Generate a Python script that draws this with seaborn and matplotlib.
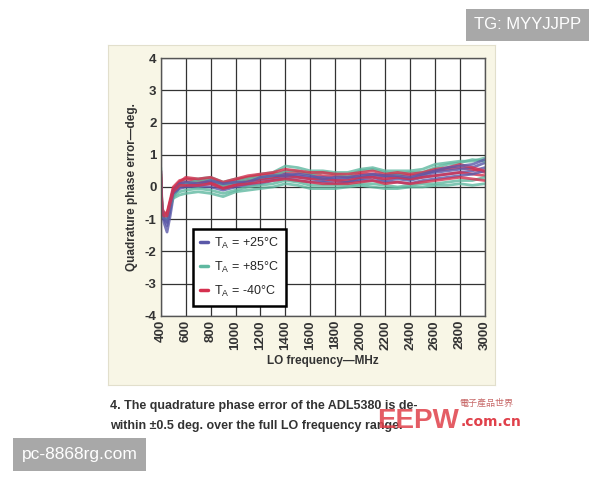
import numpy as np
import pandas as pd
import seaborn as sns
import matplotlib.pyplot as plt
from matplotlib.lines import Line2D

# LO frequency sample points (MHz)
freq = [400, 410, 425, 450, 475, 500, 550, 600, 700, 800, 900, 1000, 1100, 1200,
        1300, 1400, 1500, 1600, 1700, 1800, 1900, 2000, 2100, 2200, 2300, 2400,
        2500, 2600, 2700, 2800, 2900, 3000]

# quadrature phase error (deg.), a few devices per temperature
err_25 = [
    [0.5, -0.7, -1.1, -1.4, -0.9, -0.3, 0.0, 0.05, 0.05, 0.1, -0.05, 0.05, 0.1, 0.2, 0.25, 0.3,
     0.3, 0.25, 0.2, 0.2, 0.15, 0.25, 0.3, 0.2, 0.25, 0.2, 0.3, 0.35, 0.4, 0.45, 0.5, 0.6],
    [0.3, -0.8, -1.0, -1.2, -0.7, -0.2, 0.05, 0.1, 0.15, 0.15, 0.05, 0.1, 0.2, 0.25, 0.3, 0.4,
     0.35, 0.3, 0.3, 0.25, 0.25, 0.3, 0.35, 0.3, 0.3, 0.25, 0.35, 0.45, 0.5, 0.55, 0.6, 0.75],
    [0.0, -0.9, -1.0, -1.0, -0.6, -0.25, -0.05, 0.0, 0.0, 0.0, -0.1, 0.0, 0.05, 0.1, 0.2, 0.25,
     0.2, 0.15, 0.15, 0.1, 0.15, 0.2, 0.2, 0.15, 0.15, 0.1, 0.2, 0.25, 0.3, 0.35, 0.4, 0.5],
    [0.2, -0.75, -0.95, -1.1, -0.65, -0.15, 0.1, 0.15, 0.1, 0.2, 0.1, 0.15, 0.15, 0.3, 0.35, 0.35,
     0.4, 0.35, 0.25, 0.3, 0.3, 0.35, 0.4, 0.35, 0.35, 0.3, 0.4, 0.5, 0.6, 0.65, 0.7, 0.85],
]
err_85 = [
    [0.6, -0.6, -0.9, -0.9, -0.5, -0.1, 0.15, 0.25, 0.25, 0.3, 0.15, 0.25, 0.3, 0.4, 0.45, 0.65,
     0.6, 0.5, 0.5, 0.45, 0.45, 0.55, 0.6, 0.5, 0.5, 0.5, 0.55, 0.7, 0.75, 0.8, 0.8, 0.9],
    [0.2, -0.8, -0.9, -0.9, -0.6, -0.35, -0.25, -0.2, -0.15, -0.2, -0.3, -0.15, -0.1, -0.05, 0.0,
     0.1, 0.05, -0.05, -0.05, -0.05, 0.0, 0.05, 0.0, -0.05, -0.05, 0.0, 0.0, 0.05, 0.05, 0.1, 0.05, 0.1],
    [0.4, -0.7, -0.85, -0.95, -0.55, -0.2, 0.05, 0.1, 0.2, 0.25, 0.05, 0.15, 0.25, 0.3, 0.35, 0.5,
     0.5, 0.4, 0.45, 0.4, 0.35, 0.5, 0.55, 0.45, 0.4, 0.45, 0.45, 0.6, 0.7, 0.75, 0.85, 0.8],
    [0.1, -0.85, -0.95, -1.0, -0.6, -0.3, -0.15, -0.1, -0.05, -0.1, -0.2, -0.1, 0.0, 0.05, 0.1,
     0.2, 0.15, 0.05, 0.05, 0.05, 0.05, 0.1, 0.1, 0.05, 0.0, 0.05, 0.1, 0.1, 0.15, 0.2, 0.2, 0.3],
]
err_m40 = [
    [0.4, -0.7, -0.8, -0.8, -0.4, 0.0, 0.2, 0.25, 0.2, 0.25, 0.1, 0.2, 0.3, 0.35, 0.4, 0.45,
     0.45, 0.4, 0.35, 0.35, 0.3, 0.4, 0.4, 0.35, 0.4, 0.35, 0.4, 0.5, 0.55, 0.6, 0.55, 0.45],
    [0.3, -0.75, -0.85, -0.85, -0.45, -0.1, 0.1, 0.15, 0.15, 0.15, 0.0, 0.1, 0.2, 0.25, 0.3, 0.35,
     0.3, 0.25, 0.25, 0.2, 0.2, 0.3, 0.3, 0.25, 0.3, 0.25, 0.3, 0.35, 0.4, 0.45, 0.4, 0.35],
    [0.5, -0.65, -0.8, -0.85, -0.5, -0.05, 0.15, 0.3, 0.25, 0.3, 0.15, 0.25, 0.35, 0.4, 0.45, 0.55,
     0.5, 0.45, 0.45, 0.4, 0.4, 0.45, 0.5, 0.4, 0.45, 0.4, 0.45, 0.55, 0.6, 0.7, 0.6, 0.5],
    [0.2, -0.8, -0.9, -0.9, -0.5, -0.15, 0.05, 0.05, 0.05, 0.1, -0.05, 0.05, 0.1, 0.15, 0.2, 0.25,
     0.2, 0.15, 0.1, 0.1, 0.1, 0.15, 0.2, 0.1, 0.15, 0.1, 0.15, 0.2, 0.25, 0.3, 0.25, 0.2],
]

temps = ["+25", "+85", "-40"]
colors = {"+25": "#5a58a8", "+85": "#5fb8a0", "-40": "#d5304f"}

rows = []
for t, curves in zip(temps, [err_25, err_85, err_m40]):
    for k, c in enumerate(curves):
        for f, e in zip(freq, c):
            rows.append((f, e, t, f"{t}_{k}"))
df = pd.DataFrame(rows, columns=["freq", "err", "temp", "run"])
# interleave the runs so no colour sits fully on top
order = [f"{t}_{k}" for k in range(4) for t in ["+85", "+25", "-40"]]

sns.set_style("white")
plt.rcParams['font.family'] = ['Liberation Sans', 'DejaVu Sans']

fig = plt.figure(figsize=(6, 4.8), dpi=100)
fig.patch.set_facecolor("white")

# cream panel behind the chart
bg = fig.add_axes([0.18, 0.198, 0.645, 0.708])
bg.set_facecolor("#f8f6e6")
bg.set_xticks([])
bg.set_yticks([])
for s in bg.spines.values():
    s.set_color("#e2dfcc")

ax = fig.add_axes([0.268, 0.342, 0.54, 0.537])
ax.set_facecolor("white")
for r in order:
    sub = df[df.run == r]
    sns.lineplot(data=sub, x="freq", y="err", color=colors[sub.temp.iloc[0]],
                 lw=2.0, alpha=0.8, estimator=None, ax=ax, legend=False)

ax.set_xlim(400, 3000)
ax.set_ylim(-4, 4)
ax.set_xticks(range(400, 3001, 200))
ax.set_yticks(range(-4, 5))
ax.set_xticklabels([str(v) for v in range(400, 3001, 200)], rotation=90,
                   fontsize=9.5, fontweight="bold", color="#333333")
ax.set_yticklabels([str(v) for v in range(-4, 5)], fontsize=9.5,
                   fontweight="bold", color="#333333")
ax.grid(True, color="#333333", lw=0.9)
for s in ax.spines.values():
    s.set_color("#555555")
    s.set_linewidth(1)
ax.tick_params(length=0, pad=3)
ax.set_xlabel("LO frequency\u2014MHz", fontsize=8.5, fontweight="bold", color="#333333", labelpad=4)
ax.set_ylabel("Quadrature phase error\u2014deg.", fontsize=8.5, fontweight="bold",
              color="#333333", labelpad=5)

handles = [Line2D([0], [0], color=colors[t], lw=2.5) for t in temps]
labels = [r"T$_\mathregular{A}$ = +25°C", r"T$_\mathregular{A}$ = +85°C", r"T$_\mathregular{A}$ = -40°C"]
leg = ax.legend(handles, labels, loc="lower left", bbox_to_anchor=(0.1, 0.04),
                handlelength=0.6, handletextpad=0.5, fontsize=9, labelspacing=0.7,
                fancybox=False, framealpha=1, borderpad=0.55, borderaxespad=0)
leg.get_frame().set_edgecolor("black")
leg.get_frame().set_linewidth(1.8)

# caption
fig.text(0.183, 0.148, "4. The quadrature phase error of the ADL5380 is de-",
         fontsize=9, fontweight="bold", color="#333333")
fig.text(0.183, 0.106, "within \u00b10.5 deg. over the full LO frequency range.",
         fontsize=9, fontweight="bold", color="#333333")

# watermarks
fig.text(0.628, 0.108, "EEPW", fontsize=20, fontweight="bold",
         color="#e0404a", alpha=0.85, family=["Liberation Sans", "DejaVu Sans"])
fig.text(0.765, 0.155, "電子產品世界", fontsize=6.5, color="#c86a6a",
         family=["Noto Sans CJK TC", "DejaVu Sans"])
fig.text(0.768, 0.113, ".com.cn", fontsize=10, fontweight="bold", color="#e0404a",
         family=["DejaVu Sans"])
fig.text(0.879, 0.948, "TG: MYYJJPP", fontsize=12, color="white", ha="center", va="center",
         family=["Liberation Sans", "DejaVu Sans"],
         bbox=dict(boxstyle="square,pad=0.5", fc="#a8a8a8", ec="none"))
fig.text(0.133, 0.053, "pc-8868rg.com", fontsize=12.5, color="white", ha="center", va="center",
         family=["Liberation Sans", "DejaVu Sans"],
         bbox=dict(boxstyle="square,pad=0.5", fc="#a8a8a8", ec="none"))

fig.savefig("out.png", dpi=100)
